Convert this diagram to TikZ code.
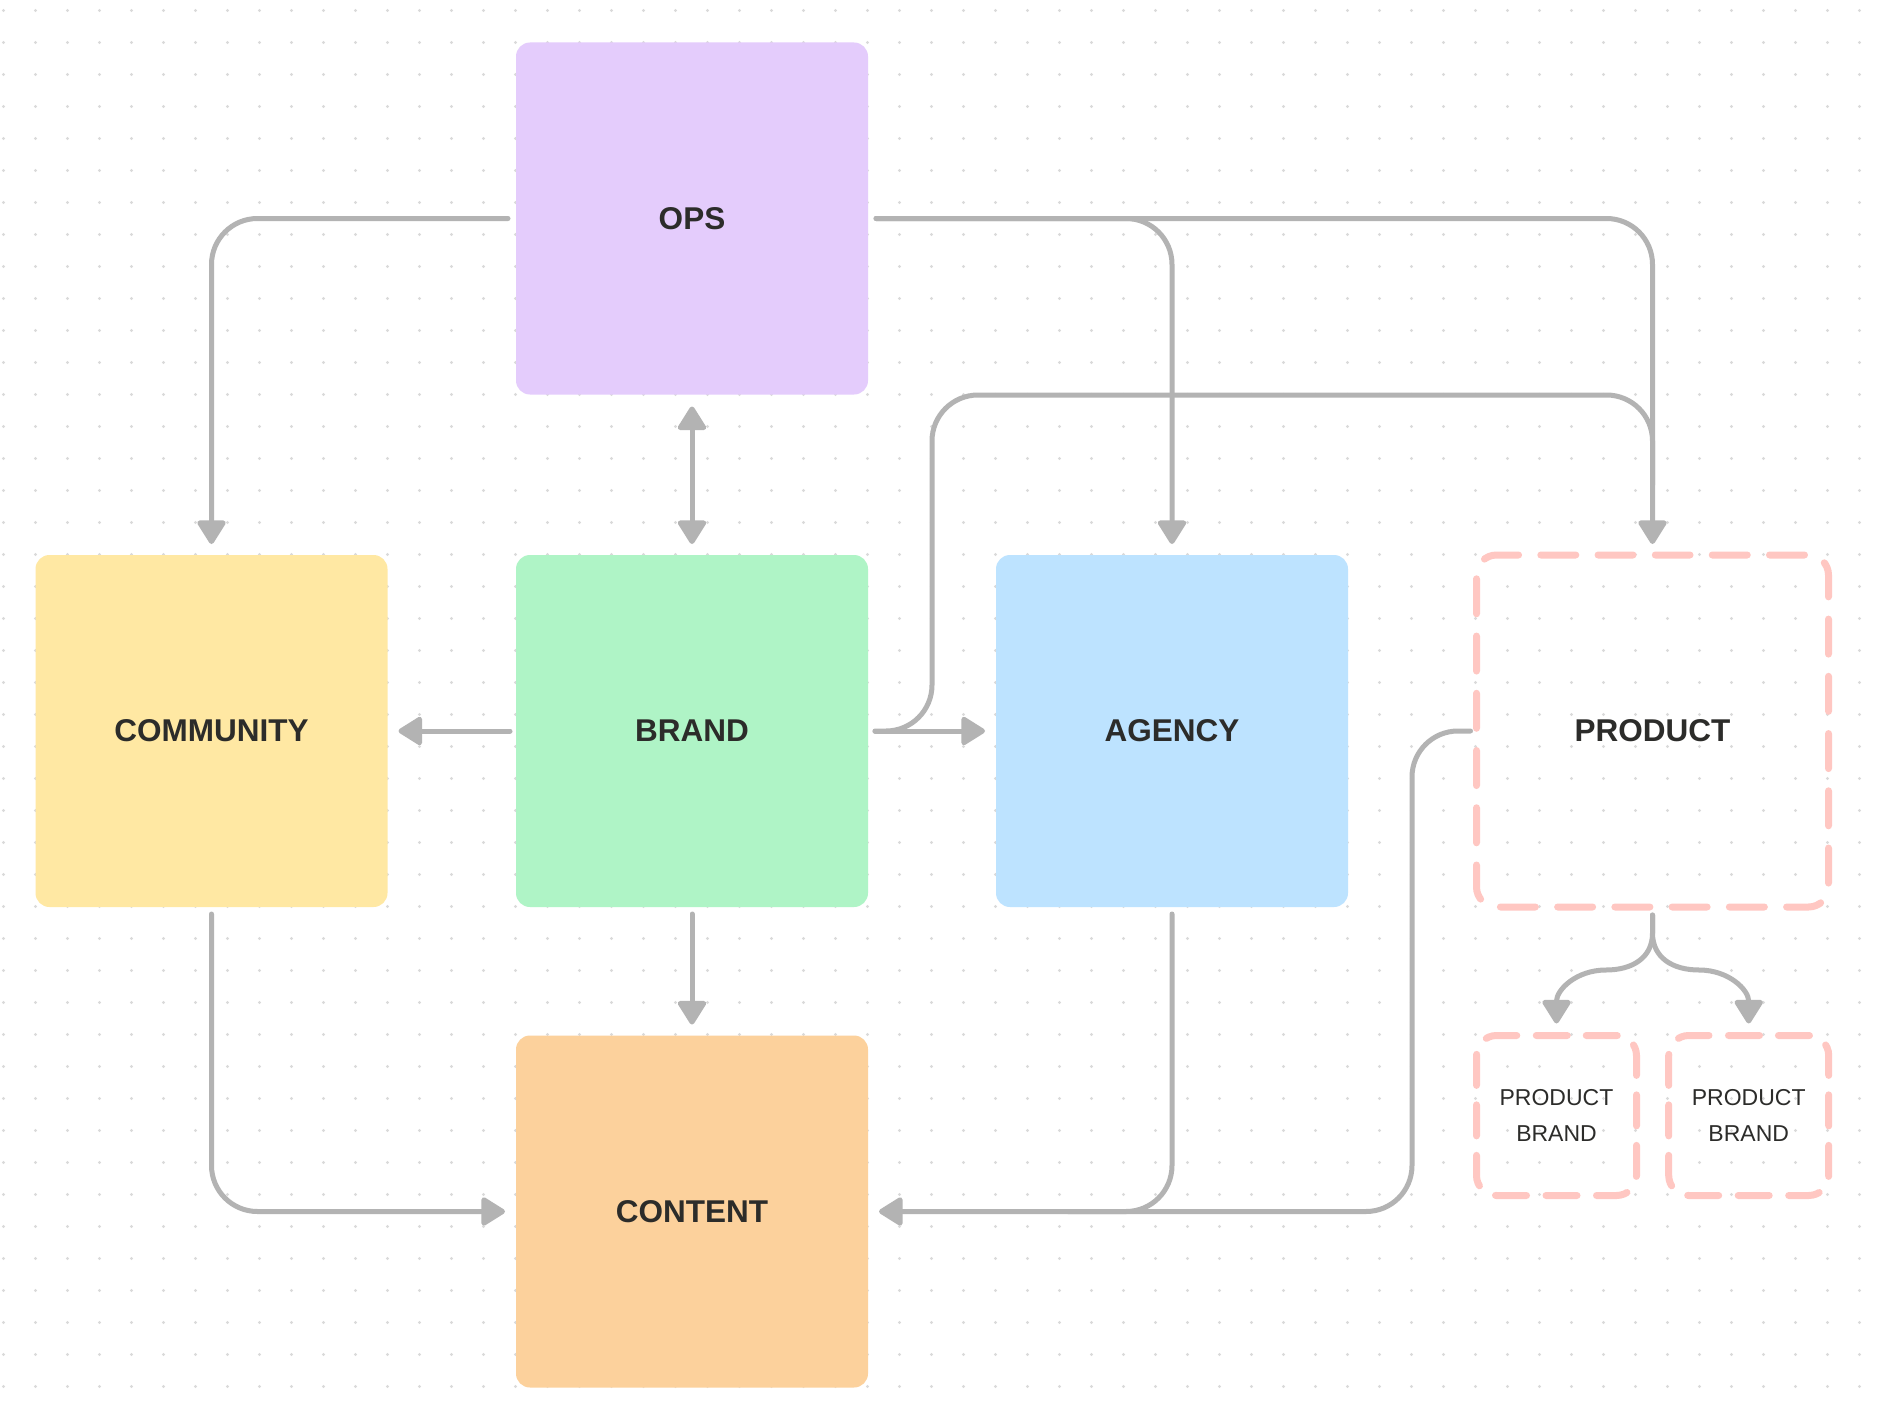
\documentclass[tikz,border=0pt]{standalone}
\usepackage{fontspec}
\setmainfont{Liberation Sans}
\usetikzlibrary{arrows.meta,calc}
\definecolor{opsc}{HTML}{E4CCFC}
\definecolor{comc}{HTML}{FFE8A3}
\definecolor{brac}{HTML}{AFF4C6}
\definecolor{agec}{HTML}{BDE3FF}
\definecolor{conc}{HTML}{FCD19C}
\definecolor{prodc}{HTML}{FFC7C2}
\definecolor{linec}{HTML}{B3B3B3}
\definecolor{txtc}{HTML}{2C2C2A}
\definecolor{dotc}{HTML}{DADADA}
\begin{document}
\begin{tikzpicture}[x=1pt,y=-1pt,
  box/.style={rectangle, rounded corners=14pt, minimum width=352pt, minimum height=352pt,
    inner sep=0pt, outer sep=0pt, text=txtc, font=\fontsize{31.5}{37}\selectfont\bfseries},
  pbox/.style={rectangle, minimum width=160pt, minimum height=160pt, inner sep=0pt,
    outer sep=0pt, text=txtc, align=center, font=\fontsize{23}{35.6}\selectfont},
  bigdash/.style={draw=prodc, line width=7pt, line cap=round, rounded corners=20pt,
    dash pattern=on 35pt off 22.24pt, dash phase=17.5pt},
  smalldash/.style={draw=prodc, line width=7pt, line cap=round, rounded corners=20pt,
    dash pattern=on 31pt off 19.5pt, dash phase=40.75pt},
  conn/.style={draw=linec, line width=5pt, line cap=round, line join=round, rounded corners=46pt},
  tip/.style={-{Triangle[length=26pt,width=31pt,round]}},
  dtip/.style={{Triangle[length=26pt,width=31pt,round]}-{Triangle[length=26pt,width=31pt,round]}}
]
\useasboundingbox (0,0) rectangle (1880,1410);
\fill[white] (0,0) rectangle (1880,1410);
% dot grid
\foreach \i in {0,...,58} {
  \foreach \j in {0,...,43} {
    \fill[dotc] (3.5+32*\i, 10.5+32*\j) circle[radius=1.6pt];
  }
}
% boxes
\node[box, fill=opsc] (ops) at (692,218.5) {OPS};
\node[box, fill=comc] (community) at (211.5,731) {COMMUNITY};
\node[box, fill=brac] (brand) at (692,731) {BRAND};
\node[box, fill=agec] (agency) at (1172,731) {AGENCY};
\node[box] (product) at (1652.5,731) {PRODUCT};
\node[box, fill=conc] (content) at (692,1211.5) {CONTENT};
\node[pbox] (pb1) at (1556.5,1115.5) {PRODUCT\\BRAND};
\node[pbox] (pb2) at (1748.7,1115.5) {PRODUCT\\BRAND};
% dashed borders
\draw[bigdash] (product.north) -- (product.north east) -- (product.south east) -- (product.south west) -- (product.north west) -- cycle;
\draw[smalldash] (pb1.north) -- (pb1.north east) -- (pb1.south east) -- (pb1.south west) -- (pb1.north west) -- cycle;
\draw[smalldash] (pb2.north) -- (pb2.north east) -- (pb2.south east) -- (pb2.south west) -- (pb2.north west) -- cycle;
% connectors
\draw[conn,tip] ($(ops.west)+(-8,0)$) -| ($(community.north)+(0,-11)$);
\draw[conn,tip] ($(ops.east)+(8,0)$) -| ($(agency.north)+(0,-11)$);
\draw[conn,tip] ($(ops.east)+(8,0)$) -| ($(product.north)+(0,-11)$);
\draw[conn,dtip] ($(ops.south)+(0,12)$) -- ($(brand.north)+(0,-11)$);
\draw[conn,tip] ($(brand.west)+(-6,0)$) -- ($(community.east)+(11,0)$);
\draw[conn,tip] ($(brand.east)+(7,0)$) -- ($(agency.west)+(-11,0)$);
\coordinate (bj1) at (932,731);
\coordinate (pj) at (1652.5,395);
\draw[conn] ($(brand.east)+(7,0)$) -- (bj1) |- (pj) -- ($(product.north)+(0,-70)$);
\draw[conn,tip] ($(brand.south)+(0,7)$) -- ($(content.north)+(0,-11)$);
\draw[conn,tip] ($(community.south)+(0,7)$) |- ($(content.west)+(-11,0)$);
\draw[conn,tip] ($(agency.south)+(0,7)$) |- ($(content.east)+(11,0)$);
\coordinate (pc) at (1412,731);
\draw[conn] ($(product.west)+(-6,0)$) -- (pc) |- ($(content.east)+(200,0)$);
% product branches
\coordinate (pbs) at (1652.5,933);
\draw[conn,tip,sharp corners] ($(product.south)+(0,8)$) -- (pbs) .. controls (1652.5,958) and (1632,970) .. (1606,970)
   .. controls (1576,970) and (1556.5,990) .. ($(pb1.north)+(0,-12)$);
\draw[conn,tip,sharp corners] ($(product.south)+(0,8)$) -- (pbs) .. controls (1652.5,958) and (1673,970) .. (1699,970)
   .. controls (1729,970) and (1748.7,990) .. ($(pb2.north)+(0,-12)$);
\end{tikzpicture}
\end{document}
